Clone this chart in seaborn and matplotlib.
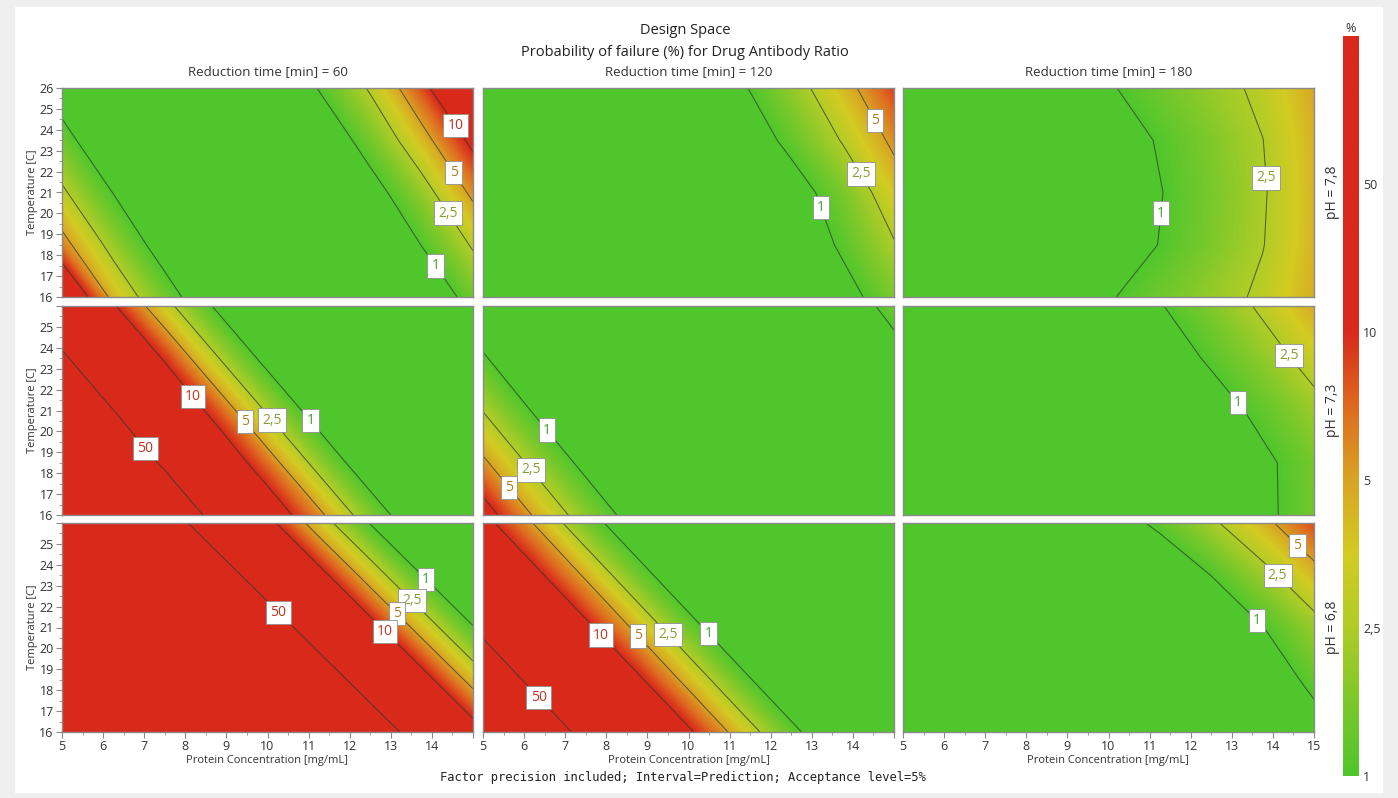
import numpy as np
import matplotlib
matplotlib.use("Agg")
import matplotlib.pyplot as plt
import matplotlib.colors as mcolors
from matplotlib.patches import Rectangle
from matplotlib.ticker import MultipleLocator
import seaborn as sns

# ---------------------------------------------------------------- data
protein_conc = [5, 6.25, 7.5, 8.75, 10, 11.25, 12.5, 13.75, 15]   # mg/mL
temperature = [16, 18.5, 21, 23.5, 26]                             # C
reduction_times = [60, 120, 180]                                   # min
ph_values = ["7,8", "7,3", "6,8"]

# Probability of failure (%) — rows follow temperature, columns protein concentration
fail_ph78_t60 = [
    [24.6, 4.2, 1.44, 0.48, 0.15, 0.064, 0.175, 0.49, 1.37],
    [6.2, 2.0, 0.68, 0.22, 0.07, 0.127, 0.365, 1.02, 2.7],
    [2.8, 0.98, 0.31, 0.1, 0.092, 0.25, 0.72, 1.9, 5.7],
    [1.37, 0.45, 0.15, 0.064, 0.18, 0.52, 1.42, 4.0, 11.7],
    [0.64, 0.21, 0.07, 0.13, 0.37, 1.04, 2.7, 8.1, 31.0],
]
fail_ph78_t120 = [
    [0.02, 0.02, 0.02, 0.034, 0.073, 0.16, 0.34, 0.74, 1.57],
    [0.02, 0.02, 0.024, 0.053, 0.113, 0.244, 0.527, 1.13, 2.39],
    [0.02, 0.02, 0.037, 0.08, 0.175, 0.375, 0.69, 1.51, 3.66],
    [0.02, 0.027, 0.058, 0.124, 0.267, 0.577, 1.23, 2.61, 5.66],
    [0.02, 0.04, 0.088, 0.192, 0.41, 0.89, 1.88, 4.03, 8.7],
]
fail_ph78_t180 = [
    [0.214, 0.312, 0.45, 0.65, 0.946, 1.366, 1.97, 2.77, 4.67],
    [0.111, 0.175, 0.272, 0.422, 0.656, 1.02, 1.58, 2.45, 4.35],
    [0.105, 0.163, 0.255, 0.40, 0.62, 0.973, 1.52, 2.37, 4.35],
    [0.121, 0.187, 0.288, 0.443, 0.68, 1.06, 1.62, 2.48, 4.41],
    [0.207, 0.301, 0.443, 0.644, 0.938, 1.38, 2.0, 2.84, 4.83],
]
fail_ph73_t60 = [
    [99, 99, 97, 39.8, 16.4, 5.77, 1.65, 0.472, 0.135],
    [99, 99, 44.7, 18.4, 6.76, 1.94, 0.553, 0.158, 0.046],
    [99, 50.4, 20.7, 8.02, 2.30, 0.656, 0.188, 0.054, 0.015],
    [56.5, 23.3, 9.42, 2.69, 0.77, 0.22, 0.063, 0.018, 0.01],
    [26.1, 10.7, 3.16, 0.905, 0.259, 0.074, 0.021, 0.01, 0.01],
]
fail_ph73_t120 = [
    [13.6, 4.73, 1.80, 0.68, 0.26, 0.1, 0.038, 0.04, 0.1],
    [5.58, 2.10, 0.80, 0.30, 0.115, 0.044, 0.02, 0.08, 0.19],
    [2.45, 0.93, 0.355, 0.135, 0.051, 0.02, 0.02, 0.155, 0.36],
    [1.10, 0.42, 0.158, 0.06, 0.023, 0.02, 0.126, 0.295, 0.70],
    [0.49, 0.19, 0.07, 0.027, 0.02, 0.10, 0.24, 0.57, 1.36],
]
fail_ph73_t180 = [
    [0.025, 0.04, 0.066, 0.11, 0.18, 0.30, 0.50, 0.85, 1.45],
    [0.021, 0.036, 0.062, 0.105, 0.178, 0.30, 0.51, 0.86, 1.46],
    [0.030, 0.051, 0.087, 0.147, 0.25, 0.42, 0.71, 1.21, 2.05],
    [0.047, 0.079, 0.134, 0.228, 0.386, 0.653, 1.11, 1.87, 3.17],
    [0.067, 0.114, 0.195, 0.33, 0.56, 0.958, 1.63, 2.78, 4.73],
]
fail_ph68_t60 = [
    [99, 99, 99, 99, 99, 99, 84.2, 34.0, 13.7],
    [99, 99, 99, 99, 99, 81.8, 33.0, 13.3, 4.05],
    [99, 99, 99, 99, 79.8, 32.1, 12.9, 3.90, 1.05],
    [99, 99, 99, 77.8, 31.3, 12.6, 3.76, 1.01, 0.27],
    [99, 99, 75.5, 30.4, 12.3, 3.61, 0.969, 0.26, 0.07],
]
fail_ph68_t120 = [
    [99, 80.4, 41.6, 21.5, 11.1, 3.93, 1.24, 0.425, 0.146],
    [82.4, 42.7, 22.1, 11.4, 4.14, 1.29, 0.443, 0.152, 0.052],
    [43.8, 22.6, 11.7, 4.37, 1.35, 0.462, 0.158, 0.054, 0.02],
    [23.2, 12.0, 4.60, 1.41, 0.483, 0.166, 0.057, 0.02, 0.02],
    [12.4, 4.85, 1.47, 0.504, 0.173, 0.059, 0.02, 0.02, 0.02],
]
fail_ph68_t180 = [
    [0.01, 0.01, 0.01, 0.02, 0.04, 0.08, 0.16, 0.34, 0.72],
    [0.01, 0.01, 0.018, 0.036, 0.072, 0.147, 0.297, 0.60, 1.22],
    [0.01, 0.0144, 0.029, 0.059, 0.119, 0.24, 0.485, 0.98, 1.99],
    [0.015, 0.03, 0.06, 0.122, 0.247, 0.50, 1.01, 2.05, 4.14],
    [0.05, 0.095, 0.178, 0.336, 0.634, 1.19, 2.25, 4.30, 8.3],
]

panels = {
    ("7,8", 60): fail_ph78_t60, ("7,8", 120): fail_ph78_t120, ("7,8", 180): fail_ph78_t180,
    ("7,3", 60): fail_ph73_t60, ("7,3", 120): fail_ph73_t120, ("7,3", 180): fail_ph73_t180,
    ("6,8", 60): fail_ph68_t60, ("6,8", 120): fail_ph68_t120, ("6,8", 180): fail_ph68_t180,
}

contour_pct = [1, 2.5, 5, 10, 50]
contour_text = ["1", "2,5", "5", "10", "50"]
scale_pct = [1, 2.5, 5, 10, 50, 100]

# where each contour gets its boxed label: (level %, conc, temp)
label_spots = {
    ("7,8", 60): [(10, 14.54, 24.15), (5, 14.56, 22.0), (2.5, 14.48, 20.13), (1, 14.21, 17.66)],
    ("7,8", 120): [(5, 14.5, 24.42), (2.5, 14.2, 21.9), (1, 13.27, 20.3)],
    ("7,8", 180): [(1, 11.21, 20.03), (2.5, 13.91, 21.71)],
    ("7,3", 60): [(50, 7.06, 19.24), (10, 8.11, 21.53), (5, 9.35, 20.28), (2.5, 9.96, 20.28), (1, 10.89, 20.25)],
    ("7,3", 120): [(1, 6.49, 19.96), (2.5, 6.15, 18.12), (5, 5.62, 17.27)],
    ("7,3", 180): [(1, 13.18, 21.43), (2.5, 14.36, 23.6)],
    ("6,8", 60): [(50, 10.3, 21.79), (10, 12.82, 20.72), (5, 13.06, 21.47), (2.5, 13.4, 22.08), (1, 13.75, 23.08)],
    ("6,8", 120): [(50, 6.41, 17.77), (10, 7.69, 20.29), (5, 8.56, 20.2), (2.5, 9.28, 20.27), (1, 10.29, 20.35)],
    ("6,8", 180): [(1, 13.64, 21.39), (2.5, 14.09, 23.43), (5, 14.58, 24.9)],
}

# ---------------------------------------------------------------- style
sns.set_theme(style="white")
plt.rcParams["font.family"] = ["Open Sans", "DejaVu Sans"]
plt.rcParams["axes.linewidth"] = 1.0

TEXT = "#333333"
SPINE = "#8a8a8a"
label_colors = {"1": "#3f9f2c", "2,5": "#86a030", "5": "#b07a22", "10": "#c4301f", "50": "#c4301f"}

# colour scale: equally spaced steps at 1, 2.5, 5, 10, 50, 100 %
cmap = mcolors.LinearSegmentedColormap.from_list(
    "failure",
    [(0.0, "#4ec62c"), (0.1, "#7cc82a"), (0.2, "#b0cc27"), (0.3, "#d3cb22"),
     (0.4, "#d9a424"), (0.5, "#de6a1f"), (0.6, "#d9291b"), (1.0, "#d9291b")],
)
LOGS = np.log10(scale_pct)
IDX = np.arange(len(scale_pct), dtype=float)


def to_scale(logp):
    return np.interp(logp, LOGS, IDX) / IDX[-1]


fill_levels = np.concatenate([[-4.0], np.linspace(0.0, 2.0, 201)])
band_mid = 0.5 * (fill_levels[:-1] + fill_levels[1:])
band_colors = [cmap(v) for v in to_scale(band_mid)]

W, H = 1398, 798
fig = plt.figure(figsize=(W / 100, H / 100), dpi=100, facecolor="#efefef")
fig.patches.append(Rectangle((15 / W, 1 - 793 / H), (1383 - 15) / W, (793 - 7) / H,
                             transform=fig.transFigure, facecolor="white",
                             edgecolor="none", zorder=-10))

col_left = [62, 483, 903]
row_top = [88, 306, 523]
ax_w, ax_h = 411, 209

X, Y = np.meshgrid(protein_conc, temperature)

for r, ph in enumerate(ph_values):
    for c, tmin in enumerate(reduction_times):
        ax = fig.add_axes([col_left[c] / W, 1 - (row_top[r] + ax_h) / H, ax_w / W, ax_h / H])
        logp = np.log10(np.asarray(panels[(ph, tmin)], dtype=float))

        cf = ax.contourf(X, Y, logp, levels=fill_levels, colors=band_colors)
        cf.set_edgecolor("face")
        cf.set_linewidth(0.4)

        spots = label_spots[(ph, tmin)]
        for pct, txt in zip(contour_pct, contour_text):
            lv = np.log10(pct)
            if not (logp.min() < lv < logp.max()):
                continue
            cs = ax.contour(X, Y, logp, levels=[lv], colors="#2c3a28",
                            linewidths=0.75, alpha=0.72)
            pos = [(sx, sy) for (sp, sx, sy) in spots if sp == pct]
            if pos:
                texts = ax.clabel(cs, manual=pos, inline=False, fontsize=10,
                                  fmt=lambda v, s=txt: s, colors=[label_colors[txt]])
                for t in texts:
                    t.set_rotation(0)
                    t.set_alpha(1.0)
                    t.set_zorder(6)
                    t.set_bbox(dict(boxstyle="square,pad=0.3", facecolor="white",
                                    edgecolor="#8f8f8f", linewidth=0.6, alpha=1.0))

        ax.set_xlim(5, 15)
        ax.set_ylim(16, 26)
        for sp in ax.spines.values():
            sp.set_color(SPINE)
            sp.set_linewidth(1.0)

        ax.set_xticks(range(5, 16))
        ax.set_xticklabels([str(v) if (v < 15 or c == 2) else "" for v in range(5, 16)])
        ax.set_yticks(range(16, 27))
        ax.set_yticklabels([str(v) if (v < 26 or r == 0) else "" for v in range(16, 27)])
        ax.xaxis.set_minor_locator(MultipleLocator(0.5))
        ax.yaxis.set_minor_locator(MultipleLocator(0.5))
        ax.tick_params(which="major", length=4, width=0.8, color=SPINE,
                       labelsize=9, labelcolor=TEXT, pad=2)
        ax.tick_params(which="minor", length=2.5, width=0.6, color=SPINE)
        ax.tick_params(axis="x", which="both", bottom=(r == 2), labelbottom=(r == 2),
                       top=False)
        ax.tick_params(axis="y", which="both", left=(c == 0), labelleft=(c == 0),
                       right=False)
        if c == 0:
            ax.set_ylabel("Temperature [C]", fontsize=8, color=TEXT, labelpad=1)
        if r == 2:
            ax.set_xlabel("Protein Concentration [mg/mL]", fontsize=8, color=TEXT, labelpad=1)
        if r == 0:
            ax.set_title(f"Reduction time [min] = {tmin}", fontsize=9.5, color=TEXT, pad=9)

    fig.text(1333 / W, 1 - (row_top[r] + ax_h / 2) / H, f"pH = {ph}", rotation=90,
             ha="center", va="center", fontsize=10, color=TEXT)

# colour bar with equally spaced steps
cax = fig.add_axes([1343 / W, 1 - 776 / H, 16 / W, 740 / H])
cax.imshow(np.linspace(0, 1, 512)[:, None], aspect="auto", cmap=cmap,
           origin="lower", extent=[0, 1, 0, IDX[-1]])
cax.set_xticks([])
cax.set_yticks(IDX[:-1])
cax.set_yticklabels(contour_text)
cax.yaxis.tick_right()
cax.tick_params(axis="y", length=0, labelsize=9, labelcolor=TEXT, pad=3)
for sp in cax.spines.values():
    sp.set_visible(False)
cax.set_title("%", fontsize=9, color=TEXT, pad=3)

fig.text(685 / W, 1 - 30 / H, "Design Space", ha="center", va="center",
         fontsize=10.5, color="#222222")
fig.text(685 / W, 1 - 52 / H, "Probability of failure (%) for Drug Antibody Ratio",
         ha="center", va="center", fontsize=10.5, color="#222222")
fig.text(683 / W, 1 - 777 / H,
         "Factor precision included; Interval=Prediction; Acceptance level=5%",
         ha="center", va="center", fontsize=8.7, family="DejaVu Sans Mono", color="#222222")

fig.savefig("out.png", dpi=100, facecolor=fig.get_facecolor())
